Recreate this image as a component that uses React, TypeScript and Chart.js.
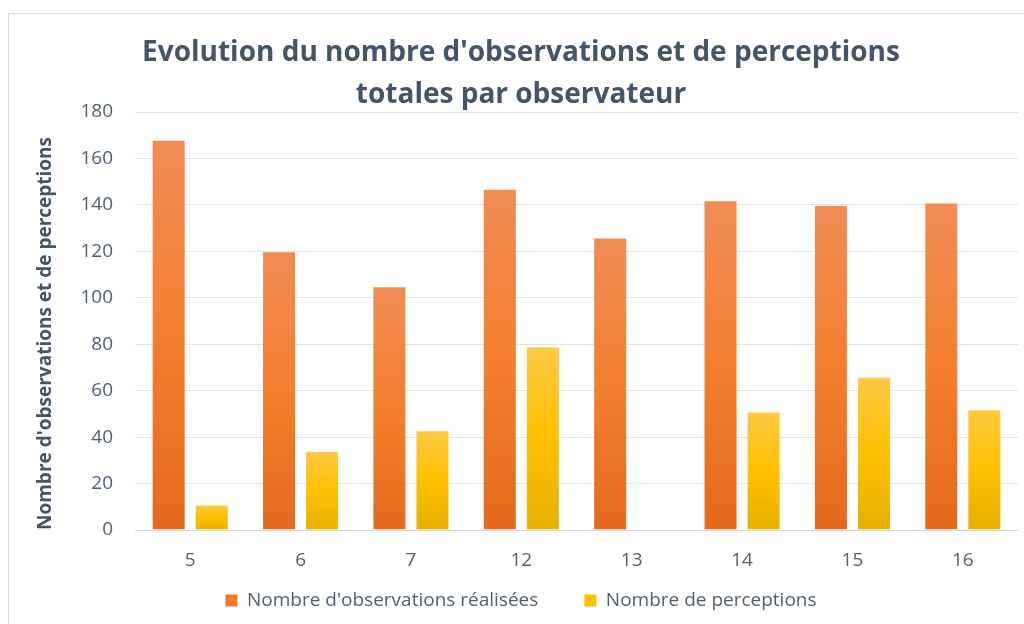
import React, { useEffect, useRef } from 'react';
import { Chart, registerables } from 'chart.js';

Chart.register(...registerables);

const categories = ['5', '6', '7', '12', '13', '14', '15', '16'];
const observations = [168, 120, 105, 147, 126, 142, 140, 141];
const perceptions: (number | null)[] = [11, 34, 43, 79, null, 51, 66, 52];
const titleLines = ["Evolution du nombre d'observations et de perceptions", 'totales par observateur'];
const yAxisTitle = "Nombre d'observations et de perceptions";
const seriesNames = ["Nombre d'observations réalisées", 'Nombre de perceptions'];

const FONT = "'Open Sans', 'Noto Sans', sans-serif";
const TEXT = '#525e74';
const TITLE = '#44546A';

const orangeStops: [number, string][] = [[0, '#F08C55'], [0.5, '#F47F2E'], [1, '#E4691C']];
const yellowStops: [number, string][] = [[0, '#FFC944'], [0.5, '#FFC000'], [1, '#E6B000']];

function gradient(stops: [number, string][]) {
  return (ctx: any) => {
    const chart = ctx.chart;
    const { chartArea, scales } = chart;
    if (ctx.type !== 'data' || !chartArea || ctx.raw == null) return stops[1][1];
    const top = scales.y.getPixelForValue(ctx.raw);
    const bottom = scales.y.getPixelForValue(0);
    if (!isFinite(top) || !isFinite(bottom) || top === bottom) return stops[1][1];
    const g = chart.ctx.createLinearGradient(0, top, 0, bottom);
    stops.forEach(([o, c]) => g.addColorStop(o, c));
    return g;
  };
}

const framePlugin = {
  id: 'frame',
  beforeDraw(chart: any) {
    const c = chart.ctx;
    c.save();
    c.fillStyle = '#ffffff';
    c.fillRect(0, 0, chart.width, chart.height);
    c.strokeStyle = '#dadee4';
    c.lineWidth = 1;
    c.strokeRect(8.5, 13.5, 1200, 800);
    c.restore();
  },
};

export default function App() {
  const ref = useRef<HTMLCanvasElement>(null);
  useEffect(() => {
    if (!ref.current) return;
    const chart = new Chart(ref.current, {
      type: 'bar',
      data: {
        labels: categories,
        datasets: [
          {
            label: seriesNames[0],
            data: observations,
            backgroundColor: gradient(orangeStops),
            borderColor: 'rgba(255,255,255,0.25)',
            borderWidth: 1,
          },
          {
            label: seriesNames[1],
            data: perceptions,
            backgroundColor: gradient(yellowStops),
            borderColor: 'rgba(255,255,255,0.25)',
            borderWidth: 1,
          },
        ],
      },
      options: {
        responsive: false,
        animation: false,
        layout: { padding: { left: 24, right: 6, top: 0, bottom: 4 } },
        datasets: { bar: { categoryPercentage: 0.78, barPercentage: 0.79 } } as any,
        plugins: {
          title: {
            display: true,
            text: titleLines,
            color: TITLE,
            font: { family: FONT, size: 28, weight: 'bold', lineHeight: 1.5 },
            padding: { top: 32, bottom: -4 },
          },
          legend: {
            position: 'bottom',
            labels: {
              color: TEXT,
              font: { family: FONT, size: 19 },
              boxWidth: 12,
              boxHeight: 12,
              padding: 46,
              generateLabels: (chart: any) =>
                chart.data.datasets.map((ds: any, i: number) => ({
                  text: ds.label,
                  fillStyle: i === 0 ? '#F17A2A' : '#FFC000',
                  strokeStyle: 'rgba(0,0,0,0)',
                  lineWidth: 0,
                  fontColor: TEXT,
                  hidden: !chart.isDatasetVisible(i),
                  datasetIndex: i,
                })),
            },
          },
          tooltip: { enabled: false },
        },
        scales: {
          x: {
            grid: { display: false, drawTicks: false },
            border: { display: true, color: '#d9d9d9' },
            ticks: { color: TEXT, font: { family: FONT, size: 19 }, padding: 19 },
            afterFit: (s: any) => {
              s.height = 15;
              s._computeLabelArea = () => undefined;
            },
          },
          y: {
            min: 0,
            max: 180,
            ticks: { stepSize: 20, color: TEXT, font: { family: FONT, size: 19 }, padding: 22 },
            grid: { color: '#dfe3e8', drawTicks: false },
            border: { display: false },
            title: {
              display: true,
              text: yAxisTitle,
              align: 'start',
              color: TITLE,
              font: { family: FONT, size: 19, weight: 'bold' },
              padding: { top: 10, bottom: 0 },
            },
            afterFit: (s: any) => {
              s.width = 111;
            },
          },
        },
      },
      plugins: [framePlugin],
    });
    return () => chart.destroy();
  }, []);
  return (
    <div style={{ position: 'absolute', left: 0, top: 0, width: 1024, height: 624 }}>
      <canvas ref={ref} width={1024} height={624} />
    </div>
  );
}
